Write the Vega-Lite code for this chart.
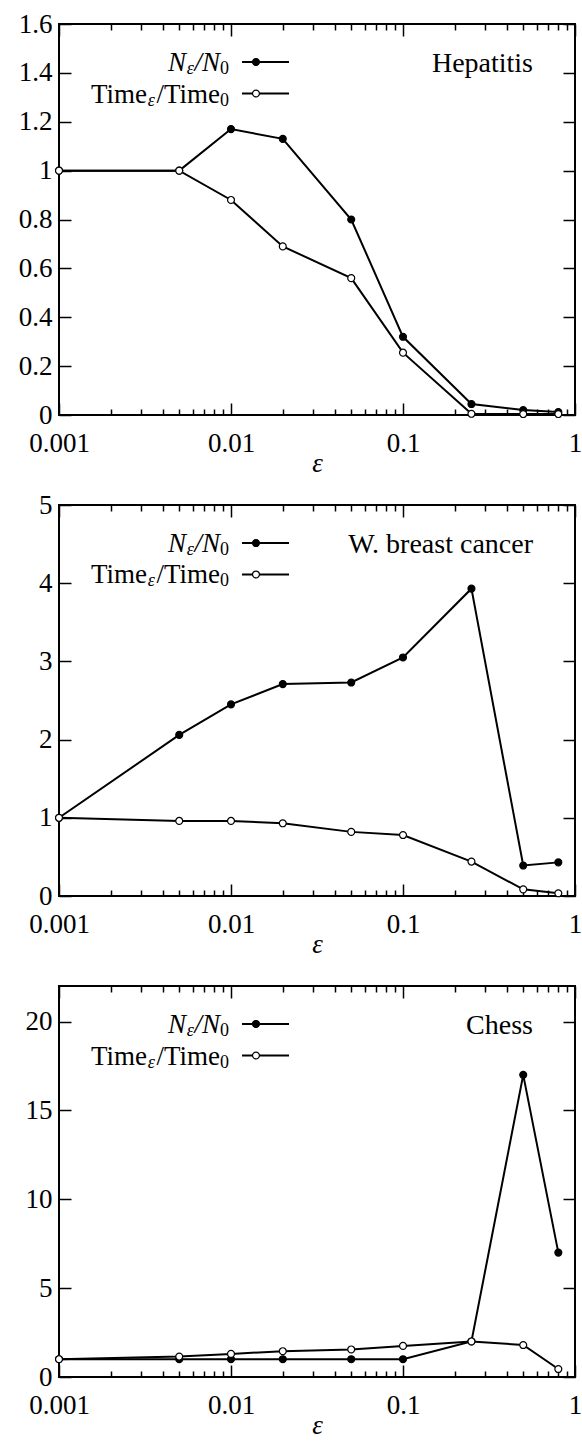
{
  "$schema": "https://vega.github.io/schema/vega-lite/v6.json",
  "padding": {"left": 17, "top": 9, "right": 2, "bottom": 2},
  "spacing": 13,
  "config": {
    "view": {"stroke": "black", "strokeWidth": 2},
    "font": "Liberation Serif",
    "axis": {
      "domain": false, "grid": false, "ticks": true,
      "labelFont": "Liberation Serif", "labelFontSize": 27, "labelColor": "black",
      "tickColor": "black", "tickWidth": 1.5,
      "titleFont": "Liberation Serif", "titleFontSize": 27, "titleFontWeight": "normal", "titleFontStyle": "italic", "titleColor": "black",
      "labelOverlap": false, "labelFlush": false, "labelBound": false
    },
    "text": {"font": "Liberation Serif", "color": "black"}
  },
  "datasets": {
    "hep": [
      {"eps": 0.001, "series": "N", "value": 1.0},
      {"eps": 0.005, "series": "N", "value": 1.0},
      {"eps": 0.01, "series": "N", "value": 1.17},
      {"eps": 0.02, "series": "N", "value": 1.13},
      {"eps": 0.05, "series": "N", "value": 0.80},
      {"eps": 0.1, "series": "N", "value": 0.32},
      {"eps": 0.25, "series": "N", "value": 0.045},
      {"eps": 0.5, "series": "N", "value": 0.02},
      {"eps": 0.8, "series": "N", "value": 0.012},
      {"eps": 0.001, "series": "T", "value": 1.0},
      {"eps": 0.005, "series": "T", "value": 1.0},
      {"eps": 0.01, "series": "T", "value": 0.88},
      {"eps": 0.02, "series": "T", "value": 0.69},
      {"eps": 0.05, "series": "T", "value": 0.56},
      {"eps": 0.1, "series": "T", "value": 0.255},
      {"eps": 0.25, "series": "T", "value": 0.005},
      {"eps": 0.5, "series": "T", "value": 0.004},
      {"eps": 0.8, "series": "T", "value": 0.004}
    ],
    "wbc": [
      {"eps": 0.001, "series": "N", "value": 1.0},
      {"eps": 0.005, "series": "N", "value": 2.06},
      {"eps": 0.01, "series": "N", "value": 2.45},
      {"eps": 0.02, "series": "N", "value": 2.71},
      {"eps": 0.05, "series": "N", "value": 2.73},
      {"eps": 0.1, "series": "N", "value": 3.05},
      {"eps": 0.25, "series": "N", "value": 3.93},
      {"eps": 0.5, "series": "N", "value": 0.39},
      {"eps": 0.8, "series": "N", "value": 0.43},
      {"eps": 0.001, "series": "T", "value": 1.0},
      {"eps": 0.005, "series": "T", "value": 0.96},
      {"eps": 0.01, "series": "T", "value": 0.96},
      {"eps": 0.02, "series": "T", "value": 0.93},
      {"eps": 0.05, "series": "T", "value": 0.82},
      {"eps": 0.1, "series": "T", "value": 0.78},
      {"eps": 0.25, "series": "T", "value": 0.44},
      {"eps": 0.5, "series": "T", "value": 0.085},
      {"eps": 0.8, "series": "T", "value": 0.035}
    ],
    "chess": [
      {"eps": 0.001, "series": "N", "value": 1.0},
      {"eps": 0.005, "series": "N", "value": 1.0},
      {"eps": 0.01, "series": "N", "value": 1.0},
      {"eps": 0.02, "series": "N", "value": 1.0},
      {"eps": 0.05, "series": "N", "value": 1.0},
      {"eps": 0.1, "series": "N", "value": 1.0},
      {"eps": 0.25, "series": "N", "value": 2.0},
      {"eps": 0.5, "series": "N", "value": 17.0},
      {"eps": 0.8, "series": "N", "value": 7.0},
      {"eps": 0.001, "series": "T", "value": 1.0},
      {"eps": 0.005, "series": "T", "value": 1.15},
      {"eps": 0.01, "series": "T", "value": 1.3},
      {"eps": 0.02, "series": "T", "value": 1.45},
      {"eps": 0.05, "series": "T", "value": 1.55},
      {"eps": 0.1, "series": "T", "value": 1.75},
      {"eps": 0.25, "series": "T", "value": 2.0},
      {"eps": 0.5, "series": "T", "value": 1.8},
      {"eps": 0.8, "series": "T", "value": 0.45}
    ],
    "one": [{}]
  },
  "vconcat": [
    {
      "width": 516, "height": 391,
      "data": {"name": "hep"},
      "resolve": {"axis": {"x": "independent", "y": "independent"}},
      "layer": [
        {
          "mark": {"type": "line", "color": "black", "strokeWidth": 2},
          "encoding": {
            "x": {"field": "eps", "type": "quantitative", "scale": {"type": "log", "domain": [0.001, 1]},
              "axis": {"orient": "bottom", "title": "ε", "titlePadding": -6, "values": [0.001, 0.01, 0.1, 1], "format": "~g", "tickSize": 12, "offset": -12, "labelPadding": 15}},
            "y": {"field": "value", "type": "quantitative", "scale": {"domain": [0, 1.6], "nice": false, "zero": true},
              "axis": {"orient": "left", "title": null, "values": [0,0.2,0.4,0.6,0.8,1,1.2,1.4,1.6], "format": "~g", "tickSize": 12, "offset": -12, "labelPadding": 7}},
            "detail": {"field": "series"}
          }
        },
        {
          "mark": {"type": "point", "shape": "circle", "size": 48, "stroke": "black", "strokeWidth": 1.2, "opacity": 1},
          "encoding": {
            "x": {"field": "eps", "type": "quantitative", "scale": {"type": "log", "domain": [0.001, 1]},
              "axis": {"orient": "bottom", "title": null, "labels": false, "values": [0.002,0.003,0.004,0.005,0.006,0.007,0.008,0.009,0.02,0.03,0.04,0.05,0.06,0.07,0.08,0.09,0.2,0.3,0.4,0.5,0.6,0.7,0.8,0.9], "tickSize": 6, "offset": -6}},
            "y": {"field": "value", "type": "quantitative", "scale": {"domain": [0, 1.6], "nice": false, "zero": true},
              "axis": {"orient": "right", "title": null, "labels": false, "values": [0,0.2,0.4,0.6,0.8,1,1.2,1.4,1.6], "tickSize": 12, "offset": -12}},
            "fill": {"field": "series", "type": "nominal", "scale": {"domain": ["N", "T"], "range": ["black", "white"]}, "legend": null}
          }
        },
        {
          "data": {"name": "one"},
          "mark": {"type": "rule", "color": "black", "strokeWidth": 2},
          "encoding": {
            "x": {"datum": 0.01159, "type": "quantitative",
              "axis": {"orient": "top", "title": null, "labels": false, "values": [0.001, 0.01, 0.1, 1], "tickSize": 12, "offset": -12}},
            "x2": {"datum": 0.02174},
            "y": {"datum": 1.4445, "type": "quantitative", "axis": null}
          }
        },
        {
          "data": {"name": "one"},
          "mark": {"type": "rule", "color": "black", "strokeWidth": 2},
          "encoding": {
            "x": {"datum": 0.01159, "type": "quantitative",
              "axis": {"orient": "top", "title": null, "labels": false, "values": [0.002,0.003,0.004,0.005,0.006,0.007,0.008,0.009,0.02,0.03,0.04,0.05,0.06,0.07,0.08,0.09,0.2,0.3,0.4,0.5,0.6,0.7,0.8,0.9], "tickSize": 6, "offset": -6}},
            "x2": {"datum": 0.02174},
            "y": {"datum": 1.3156, "type": "quantitative", "axis": null}
          }
        },
        {
          "data": {"name": "one"},
          "mark": {"type": "point", "shape": "circle", "size": 48, "stroke": "black", "fill": "black", "strokeWidth": 1.2, "opacity": 1},
          "encoding": {
            "x": {"datum": 0.01397, "type": "quantitative", "axis": null},
            "y": {"datum": 1.4445, "type": "quantitative", "axis": null}
          }
        },
        {
          "data": {"name": "one"},
          "mark": {"type": "point", "shape": "circle", "size": 48, "stroke": "black", "fill": "white", "strokeWidth": 1.2, "opacity": 1},
          "encoding": {
            "x": {"datum": 0.01397, "type": "quantitative", "axis": null},
            "y": {"datum": 1.3156, "type": "quantitative", "axis": null}
          }
        },
        {"data": {"name": "one"}, "mark": {"type": "text", "text": "0", "fontSize": 18, "align": "right", "baseline": "alphabetic", "dy": 12},
          "encoding": {"x": {"datum": 0.00973, "type": "quantitative", "axis": null}, "y": {"datum": 1.4445, "type": "quantitative", "axis": null}}},
        {"data": {"name": "one"}, "mark": {"type": "text", "text": "/N", "fontSize": 27, "fontStyle": "italic", "align": "right", "baseline": "alphabetic", "dy": 9, "dx": -9},
          "encoding": {"x": {"datum": 0.00973, "type": "quantitative", "axis": null}, "y": {"datum": 1.4445, "type": "quantitative", "axis": null}}},
        {"data": {"name": "one"}, "mark": {"type": "text", "text": "ε", "fontSize": 18, "fontStyle": "italic", "align": "right", "baseline": "alphabetic", "dy": 12, "dx": -35},
          "encoding": {"x": {"datum": 0.00973, "type": "quantitative", "axis": null}, "y": {"datum": 1.4445, "type": "quantitative", "axis": null}}},
        {"data": {"name": "one"}, "mark": {"type": "text", "text": "N", "fontSize": 27, "fontStyle": "italic", "align": "right", "baseline": "alphabetic", "dy": 9, "dx": -43},
          "encoding": {"x": {"datum": 0.00973, "type": "quantitative", "axis": null}, "y": {"datum": 1.4445, "type": "quantitative", "axis": null}}},
        {"data": {"name": "one"}, "mark": {"type": "text", "text": "0", "fontSize": 18, "align": "right", "baseline": "alphabetic", "dy": 12},
          "encoding": {"x": {"datum": 0.00973, "type": "quantitative", "axis": null}, "y": {"datum": 1.3156, "type": "quantitative", "axis": null}}},
        {"data": {"name": "one"}, "mark": {"type": "text", "text": "/Time", "fontSize": 27, "align": "right", "baseline": "alphabetic", "dy": 9, "dx": -9},
          "encoding": {"x": {"datum": 0.00973, "type": "quantitative", "axis": null}, "y": {"datum": 1.3156, "type": "quantitative", "axis": null}}},
        {"data": {"name": "one"}, "mark": {"type": "text", "text": "ε", "fontSize": 18, "fontStyle": "italic", "align": "right", "baseline": "alphabetic", "dy": 12, "dx": -74},
          "encoding": {"x": {"datum": 0.00973, "type": "quantitative", "axis": null}, "y": {"datum": 1.3156, "type": "quantitative", "axis": null}}},
        {"data": {"name": "one"}, "mark": {"type": "text", "text": "Time", "fontSize": 27, "align": "right", "baseline": "alphabetic", "dy": 9, "dx": -82},
          "encoding": {"x": {"datum": 0.00973, "type": "quantitative", "axis": null}, "y": {"datum": 1.3156, "type": "quantitative", "axis": null}}},
        {"data": {"name": "one"}, "mark": {"type": "text", "text": "Hepatitis", "fontSize": 28, "align": "right", "baseline": "alphabetic", "dy": 10},
          "encoding": {"x": {"datum": 0.57, "type": "quantitative", "axis": null}, "y": {"datum": 1.4445, "type": "quantitative", "axis": null}}}
      ]
    },
    {
      "width": 516, "height": 391,
      "data": {"name": "wbc"},
      "resolve": {"axis": {"x": "independent", "y": "independent"}},
      "layer": [
        {
          "mark": {"type": "line", "color": "black", "strokeWidth": 2},
          "encoding": {
            "x": {"field": "eps", "type": "quantitative", "scale": {"type": "log", "domain": [0.001, 1]},
              "axis": {"orient": "bottom", "title": "ε", "titlePadding": -6, "values": [0.001, 0.01, 0.1, 1], "format": "~g", "tickSize": 12, "offset": -12, "labelPadding": 15}},
            "y": {"field": "value", "type": "quantitative", "scale": {"domain": [0, 5], "nice": false, "zero": true},
              "axis": {"orient": "left", "title": null, "values": [0,1,2,3,4,5], "format": "~g", "tickSize": 12, "offset": -12, "labelPadding": 7}},
            "detail": {"field": "series"}
          }
        },
        {
          "mark": {"type": "point", "shape": "circle", "size": 48, "stroke": "black", "strokeWidth": 1.2, "opacity": 1},
          "encoding": {
            "x": {"field": "eps", "type": "quantitative", "scale": {"type": "log", "domain": [0.001, 1]},
              "axis": {"orient": "bottom", "title": null, "labels": false, "values": [0.002,0.003,0.004,0.005,0.006,0.007,0.008,0.009,0.02,0.03,0.04,0.05,0.06,0.07,0.08,0.09,0.2,0.3,0.4,0.5,0.6,0.7,0.8,0.9], "tickSize": 6, "offset": -6}},
            "y": {"field": "value", "type": "quantitative", "scale": {"domain": [0, 5], "nice": false, "zero": true},
              "axis": {"orient": "right", "title": null, "labels": false, "values": [0,1,2,3,4,5], "tickSize": 12, "offset": -12}},
            "fill": {"field": "series", "type": "nominal", "scale": {"domain": ["N", "T"], "range": ["black", "white"]}, "legend": null}
          }
        },
        {
          "data": {"name": "one"},
          "mark": {"type": "rule", "color": "black", "strokeWidth": 2},
          "encoding": {
            "x": {"datum": 0.01159, "type": "quantitative",
              "axis": {"orient": "top", "title": null, "labels": false, "values": [0.001, 0.01, 0.1, 1], "tickSize": 12, "offset": -12}},
            "x2": {"datum": 0.02174},
            "y": {"datum": 4.514, "type": "quantitative", "axis": null}
          }
        },
        {
          "data": {"name": "one"},
          "mark": {"type": "rule", "color": "black", "strokeWidth": 2},
          "encoding": {
            "x": {"datum": 0.01159, "type": "quantitative",
              "axis": {"orient": "top", "title": null, "labels": false, "values": [0.002,0.003,0.004,0.005,0.006,0.007,0.008,0.009,0.02,0.03,0.04,0.05,0.06,0.07,0.08,0.09,0.2,0.3,0.4,0.5,0.6,0.7,0.8,0.9], "tickSize": 6, "offset": -6}},
            "x2": {"datum": 0.02174},
            "y": {"datum": 4.1113, "type": "quantitative", "axis": null}
          }
        },
        {
          "data": {"name": "one"},
          "mark": {"type": "point", "shape": "circle", "size": 48, "stroke": "black", "fill": "black", "strokeWidth": 1.2, "opacity": 1},
          "encoding": {
            "x": {"datum": 0.01397, "type": "quantitative", "axis": null},
            "y": {"datum": 4.514, "type": "quantitative", "axis": null}
          }
        },
        {
          "data": {"name": "one"},
          "mark": {"type": "point", "shape": "circle", "size": 48, "stroke": "black", "fill": "white", "strokeWidth": 1.2, "opacity": 1},
          "encoding": {
            "x": {"datum": 0.01397, "type": "quantitative", "axis": null},
            "y": {"datum": 4.1113, "type": "quantitative", "axis": null}
          }
        },
        {"data": {"name": "one"}, "mark": {"type": "text", "text": "0", "fontSize": 18, "align": "right", "baseline": "alphabetic", "dy": 12},
          "encoding": {"x": {"datum": 0.00973, "type": "quantitative", "axis": null}, "y": {"datum": 4.514, "type": "quantitative", "axis": null}}},
        {"data": {"name": "one"}, "mark": {"type": "text", "text": "/N", "fontSize": 27, "fontStyle": "italic", "align": "right", "baseline": "alphabetic", "dy": 9, "dx": -9},
          "encoding": {"x": {"datum": 0.00973, "type": "quantitative", "axis": null}, "y": {"datum": 4.514, "type": "quantitative", "axis": null}}},
        {"data": {"name": "one"}, "mark": {"type": "text", "text": "ε", "fontSize": 18, "fontStyle": "italic", "align": "right", "baseline": "alphabetic", "dy": 12, "dx": -35},
          "encoding": {"x": {"datum": 0.00973, "type": "quantitative", "axis": null}, "y": {"datum": 4.514, "type": "quantitative", "axis": null}}},
        {"data": {"name": "one"}, "mark": {"type": "text", "text": "N", "fontSize": 27, "fontStyle": "italic", "align": "right", "baseline": "alphabetic", "dy": 9, "dx": -43},
          "encoding": {"x": {"datum": 0.00973, "type": "quantitative", "axis": null}, "y": {"datum": 4.514, "type": "quantitative", "axis": null}}},
        {"data": {"name": "one"}, "mark": {"type": "text", "text": "0", "fontSize": 18, "align": "right", "baseline": "alphabetic", "dy": 12},
          "encoding": {"x": {"datum": 0.00973, "type": "quantitative", "axis": null}, "y": {"datum": 4.1113, "type": "quantitative", "axis": null}}},
        {"data": {"name": "one"}, "mark": {"type": "text", "text": "/Time", "fontSize": 27, "align": "right", "baseline": "alphabetic", "dy": 9, "dx": -9},
          "encoding": {"x": {"datum": 0.00973, "type": "quantitative", "axis": null}, "y": {"datum": 4.1113, "type": "quantitative", "axis": null}}},
        {"data": {"name": "one"}, "mark": {"type": "text", "text": "ε", "fontSize": 18, "fontStyle": "italic", "align": "right", "baseline": "alphabetic", "dy": 12, "dx": -74},
          "encoding": {"x": {"datum": 0.00973, "type": "quantitative", "axis": null}, "y": {"datum": 4.1113, "type": "quantitative", "axis": null}}},
        {"data": {"name": "one"}, "mark": {"type": "text", "text": "Time", "fontSize": 27, "align": "right", "baseline": "alphabetic", "dy": 9, "dx": -82},
          "encoding": {"x": {"datum": 0.00973, "type": "quantitative", "axis": null}, "y": {"datum": 4.1113, "type": "quantitative", "axis": null}}},
        {"data": {"name": "one"}, "mark": {"type": "text", "text": "W. breast cancer", "fontSize": 28, "align": "right", "baseline": "alphabetic", "dy": 10},
          "encoding": {"x": {"datum": 0.57, "type": "quantitative", "axis": null}, "y": {"datum": 4.514, "type": "quantitative", "axis": null}}}
      ]
    },
    {
      "width": 516, "height": 391,
      "data": {"name": "chess"},
      "resolve": {"axis": {"x": "independent", "y": "independent"}},
      "layer": [
        {
          "mark": {"type": "line", "color": "black", "strokeWidth": 2},
          "encoding": {
            "x": {"field": "eps", "type": "quantitative", "scale": {"type": "log", "domain": [0.001, 1]},
              "axis": {"orient": "bottom", "title": "ε", "titlePadding": -6, "values": [0.001, 0.01, 0.1, 1], "format": "~g", "tickSize": 12, "offset": -12, "labelPadding": 15}},
            "y": {"field": "value", "type": "quantitative", "scale": {"domain": [0, 22], "nice": false, "zero": true},
              "axis": {"orient": "left", "title": null, "values": [0,5,10,15,20,22], "format": "~g", "tickSize": 12, "offset": -12, "labelPadding": 7,
                "labelOpacity": {"condition": {"test": "datum.value == 22", "value": 0}, "value": 1},
                "tickOpacity": {"condition": {"test": "datum.value == 22", "value": 0}, "value": 1}}},
            "detail": {"field": "series"}
          }
        },
        {
          "mark": {"type": "point", "shape": "circle", "size": 48, "stroke": "black", "strokeWidth": 1.2, "opacity": 1},
          "encoding": {
            "x": {"field": "eps", "type": "quantitative", "scale": {"type": "log", "domain": [0.001, 1]},
              "axis": {"orient": "bottom", "title": null, "labels": false, "values": [0.002,0.003,0.004,0.005,0.006,0.007,0.008,0.009,0.02,0.03,0.04,0.05,0.06,0.07,0.08,0.09,0.2,0.3,0.4,0.5,0.6,0.7,0.8,0.9], "tickSize": 6, "offset": -6}},
            "y": {"field": "value", "type": "quantitative", "scale": {"domain": [0, 22], "nice": false, "zero": true},
              "axis": {"orient": "right", "title": null, "labels": false, "values": [0,5,10,15,20], "tickSize": 12, "offset": -12}},
            "fill": {"field": "series", "type": "nominal", "scale": {"domain": ["N", "T"], "range": ["black", "white"]}, "legend": null}
          }
        },
        {
          "data": {"name": "one"},
          "mark": {"type": "rule", "color": "black", "strokeWidth": 2},
          "encoding": {
            "x": {"datum": 0.01159, "type": "quantitative",
              "axis": {"orient": "top", "title": null, "labels": false, "values": [0.001, 0.01, 0.1, 1], "tickSize": 12, "offset": -12}},
            "x2": {"datum": 0.02174},
            "y": {"datum": 19.862, "type": "quantitative", "axis": null}
          }
        },
        {
          "data": {"name": "one"},
          "mark": {"type": "rule", "color": "black", "strokeWidth": 2},
          "encoding": {
            "x": {"datum": 0.01159, "type": "quantitative",
              "axis": {"orient": "top", "title": null, "labels": false, "values": [0.002,0.003,0.004,0.005,0.006,0.007,0.008,0.009,0.02,0.03,0.04,0.05,0.06,0.07,0.08,0.09,0.2,0.3,0.4,0.5,0.6,0.7,0.8,0.9], "tickSize": 6, "offset": -6}},
            "x2": {"datum": 0.02174},
            "y": {"datum": 18.0895, "type": "quantitative", "axis": null}
          }
        },
        {
          "data": {"name": "one"},
          "mark": {"type": "point", "shape": "circle", "size": 48, "stroke": "black", "fill": "black", "strokeWidth": 1.2, "opacity": 1},
          "encoding": {
            "x": {"datum": 0.01397, "type": "quantitative", "axis": null},
            "y": {"datum": 19.862, "type": "quantitative", "axis": null}
          }
        },
        {
          "data": {"name": "one"},
          "mark": {"type": "point", "shape": "circle", "size": 48, "stroke": "black", "fill": "white", "strokeWidth": 1.2, "opacity": 1},
          "encoding": {
            "x": {"datum": 0.01397, "type": "quantitative", "axis": null},
            "y": {"datum": 18.0895, "type": "quantitative", "axis": null}
          }
        },
        {"data": {"name": "one"}, "mark": {"type": "text", "text": "0", "fontSize": 18, "align": "right", "baseline": "alphabetic", "dy": 12},
          "encoding": {"x": {"datum": 0.00973, "type": "quantitative", "axis": null}, "y": {"datum": 19.862, "type": "quantitative", "axis": null}}},
        {"data": {"name": "one"}, "mark": {"type": "text", "text": "/N", "fontSize": 27, "fontStyle": "italic", "align": "right", "baseline": "alphabetic", "dy": 9, "dx": -9},
          "encoding": {"x": {"datum": 0.00973, "type": "quantitative", "axis": null}, "y": {"datum": 19.862, "type": "quantitative", "axis": null}}},
        {"data": {"name": "one"}, "mark": {"type": "text", "text": "ε", "fontSize": 18, "fontStyle": "italic", "align": "right", "baseline": "alphabetic", "dy": 12, "dx": -35},
          "encoding": {"x": {"datum": 0.00973, "type": "quantitative", "axis": null}, "y": {"datum": 19.862, "type": "quantitative", "axis": null}}},
        {"data": {"name": "one"}, "mark": {"type": "text", "text": "N", "fontSize": 27, "fontStyle": "italic", "align": "right", "baseline": "alphabetic", "dy": 9, "dx": -43},
          "encoding": {"x": {"datum": 0.00973, "type": "quantitative", "axis": null}, "y": {"datum": 19.862, "type": "quantitative", "axis": null}}},
        {"data": {"name": "one"}, "mark": {"type": "text", "text": "0", "fontSize": 18, "align": "right", "baseline": "alphabetic", "dy": 12},
          "encoding": {"x": {"datum": 0.00973, "type": "quantitative", "axis": null}, "y": {"datum": 18.0895, "type": "quantitative", "axis": null}}},
        {"data": {"name": "one"}, "mark": {"type": "text", "text": "/Time", "fontSize": 27, "align": "right", "baseline": "alphabetic", "dy": 9, "dx": -9},
          "encoding": {"x": {"datum": 0.00973, "type": "quantitative", "axis": null}, "y": {"datum": 18.0895, "type": "quantitative", "axis": null}}},
        {"data": {"name": "one"}, "mark": {"type": "text", "text": "ε", "fontSize": 18, "fontStyle": "italic", "align": "right", "baseline": "alphabetic", "dy": 12, "dx": -74},
          "encoding": {"x": {"datum": 0.00973, "type": "quantitative", "axis": null}, "y": {"datum": 18.0895, "type": "quantitative", "axis": null}}},
        {"data": {"name": "one"}, "mark": {"type": "text", "text": "Time", "fontSize": 27, "align": "right", "baseline": "alphabetic", "dy": 9, "dx": -82},
          "encoding": {"x": {"datum": 0.00973, "type": "quantitative", "axis": null}, "y": {"datum": 18.0895, "type": "quantitative", "axis": null}}},
        {"data": {"name": "one"}, "mark": {"type": "text", "text": "Chess", "fontSize": 28, "align": "right", "baseline": "alphabetic", "dy": 10},
          "encoding": {"x": {"datum": 0.57, "type": "quantitative", "axis": null}, "y": {"datum": 19.862, "type": "quantitative", "axis": null}}}
      ]
    }
  ]
}
